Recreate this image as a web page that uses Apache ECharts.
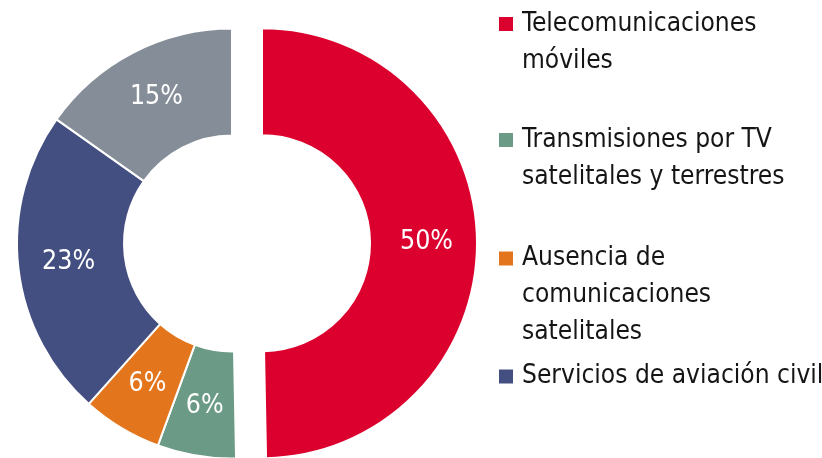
<!DOCTYPE html>
<html>
<head>
<meta charset="utf-8">
<script src="https://cdn.jsdelivr.net/npm/echarts@6/dist/echarts.min.js"></script>
<style>
  html, body { margin: 0; padding: 0; background: #fff; }
  #chart { width: 822px; height: 458px; }
</style>
</head>
<body>
<div id="chart"></div>
<script>
// datos
const categories = [
  'Telecomunicaciones móviles',
  'Transmisiones por TV satelitales y terrestres',
  'Ausencia de comunicaciones satelitales',
  'Servicios de aviación civil',
  'Otros'
]
const values = [49.7, 5.9, 6.0, 23.2, 15.2]
const legendText = [
  'Telecomunicaciones\nmóviles',
  'Transmisiones por TV\nsatelitales y terrestres',
  'Ausencia de\ncomunicaciones\nsatelitales',
  'Servicios de aviación civil'
]
const colors = ['#dc002e', '#6b9a86', '#e3761d', '#434f80', '#858e98']

const font = "'DejaVu Sans Condensed', 'Liberation Sans Narrow', sans-serif"
const lineH = 37
const iconCenters = [24, 140, 258.5, 376.5]

const chart = echarts.init(document.getElementById('chart'))

// icono cuadrado alineado con la primera linea del texto
const legends = legendText.map((txt, i) => {
  const n = txt.split('\n').length
  const h = n * lineH
  const c = lineH / 2
  return {
    data: [categories[i]],
    orient: 'vertical',
    left: 499,
    top: iconCenters[i] - c,
    padding: 0,
    icon: `path://M0 0L0 0M0 ${h}L0 ${h}M0 ${c - 7}L14 ${c - 7}L14 ${c + 7}L0 ${c + 7}Z`,
    itemWidth: 14,
    itemHeight: h,
    itemStyle: { borderWidth: 0 },
    selectedMode: false,
    formatter: () => txt,
    textStyle: {
      fontFamily: font,
      fontSize: 26.1,
      lineHeight: lineH,
      color: '#151515',
      padding: [0, 0, 0, 4]
    }
  }
})

chart.setOption({
  animation: false,
  color: colors,
  legend: legends,
  series: [
    {
      type: 'pie',
      center: [232, 243.5],
      radius: [108, 215],
      startAngle: 90,
      clockwise: true,
      selectedMode: 'single',
      selectedOffset: 30,
      avoidLabelOverlap: false,
      itemStyle: {
        borderColor: '#fff',
        borderWidth: 2
      },
      emphasis: { disabled: true },
      label: {
        show: true,
        position: 'inside',
        color: '#fff',
        fontFamily: font,
        fontSize: 26.5,
        padding: [6, 0, 0, 0],
        formatter: p => Math.round(p.value) + '%'
      },
      labelLine: { show: false },
      data: categories.map((name, i) => ({
        name: name,
        value: values[i],
        selected: i === 0
      }))
    }
  ]
})
</script>
</body>
</html>
